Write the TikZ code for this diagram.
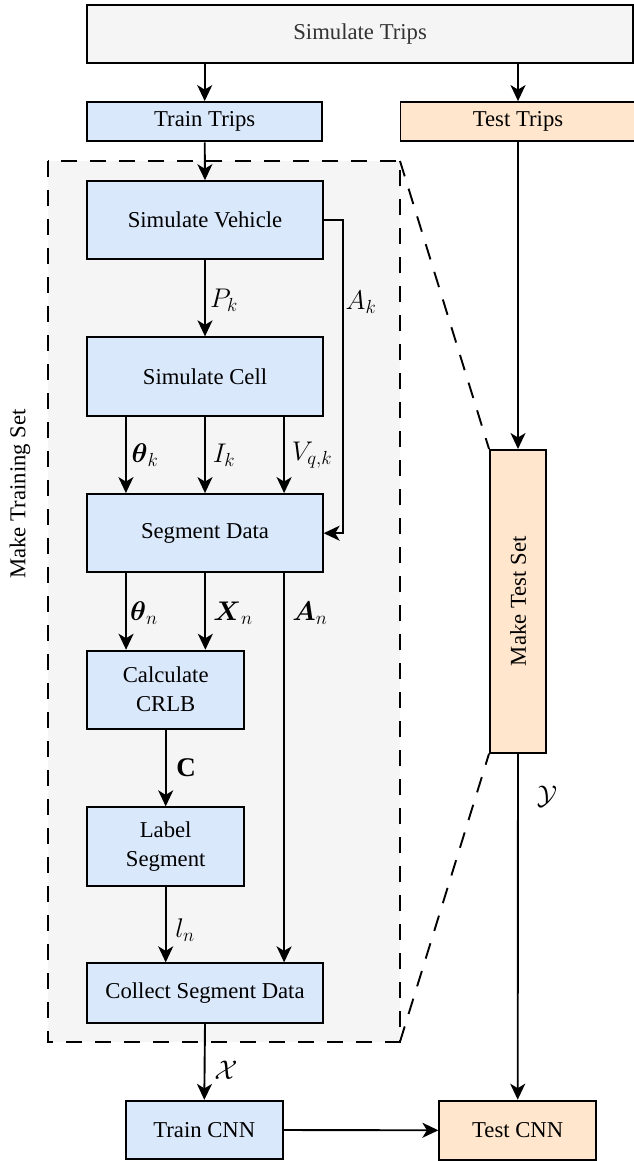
\RequirePackage{fix-cm}
\documentclass[tikz,border=0pt]{standalone}
\usepackage{amsmath}
\usepackage{fontspec}
\setmainfont{Liberation Serif}
\newfontfamily\tnr{Liberation Serif}
\usetikzlibrary{arrows.meta,calc}
\definecolor{blu}{HTML}{DAE8FC}
\definecolor{org}{HTML}{FFE6CC}
\definecolor{gry}{HTML}{F5F5F5}
\definecolor{txtg}{HTML}{333333}
\newcommand{\tf}{\tnr\fontsize{22.7}{29}\selectfont}
\newcommand{\mf}{\fontsize{27}{31}\selectfont}
\begin{document}
\begin{tikzpicture}[x=1pt,y=-1pt,
  box/.style={draw=black, line width=1.9pt, fill=blu, inner sep=0pt, align=center, font=\tf},
  arr/.style={line width=1.9pt, -{Stealth[length=16pt,width=15pt,inset=4.5pt]}},
  dsh/.style={line width=1.9pt, dash pattern=on 16pt off 13pt},
  lab/.style={font=\mf, inner sep=0pt}]
\useasboundingbox (0,0) rectangle (633,1161);
% training region
\coordinate (dtl) at (48,161);
\coordinate (dbr) at (400,1041.7);
\coordinate (dtr) at (400,161);
\fill[gry] (dtl) rectangle (dbr);
\draw[dsh] (dtl) rectangle (dbr);
\node[rotate=90, font=\tf, inner sep=0pt] (mtrain) at (20,494) {Make Training Set};
% nodes
\node[box, fill=gry, text=txtg, minimum width=546pt, minimum height=58pt] (simtrips) at (360.1,33.7) {Simulate Trips};
\node[box, minimum width=235pt, minimum height=39.3pt] (traintrips) at (204.7,121.7) {Train Trips};
\node[box, fill=org, minimum width=235pt, minimum height=39.3pt] (testtrips) at (518,121.7) {Test Trips};
\node[box, minimum width=235.4pt, minimum height=77.7pt] (simveh) at (205,220) {Simulate Vehicle};
\node[box, minimum width=235.4pt, minimum height=78.4pt] (simcell) at (205,376.5) {Simulate Cell};
\node[box, minimum width=235.4pt, minimum height=78.3pt] (segdata) at (205,533.2) {Segment Data};
\node[box, minimum width=156.7pt, minimum height=78pt] (crlb) at (165.7,689.7) {Calculate\\CRLB};
\node[box, minimum width=156.7pt, minimum height=78.4pt] (labelseg) at (165.7,846.5) {Label\\Segment};
\node[box, minimum width=235.4pt, minimum height=59.4pt] (collect) at (205,993) {Collect Segment Data};
\node[box, minimum width=156.7pt, minimum height=58.3pt] (traincnn) at (204.3,1130) {Train CNN};
\node[box, fill=org, minimum width=156.7pt, minimum height=59.3pt] (testcnn) at (517.7,1130.3) {Test CNN};
\node[box, fill=org, minimum width=56pt, minimum height=302.7pt] (maketest) at (518,601.3) {\rotatebox{90}{Make Test Set}};
% zoom lines
\draw[dsh] (dtr) -- (maketest.north west);
\draw[dsh] (dbr) -- (maketest.south west);
% connectors
\draw[arr] (simtrips.south -| traintrips.north) -- (traintrips.north);
\draw[arr] (simtrips.south -| testtrips.north) -- (testtrips.north);
\draw[arr] (traintrips.south) -- (simveh.north);
\draw[arr] (simveh.south) -- (simcell.north);
\draw[arr] (simveh.east) -- ++(19pt,0) coordinate (akc) |- (segdata.east);
\coordinate (c1) at ($(simcell.south west)!1/6!(simcell.south east)$);
\coordinate (c2) at ($(simcell.south west)!1/2!(simcell.south east)$);
\coordinate (c3) at ($(simcell.south west)!5/6!(simcell.south east)$);
\draw[arr] (c1) -- (c1 |- segdata.north);
\draw[arr] (c2) -- (c2 |- segdata.north);
\draw[arr] (c3) -- (c3 |- segdata.north);
\coordinate (d1) at ($(crlb.north west)!1/4!(crlb.north east)$);
\coordinate (d2) at ($(crlb.north west)!3/4!(crlb.north east)$);
\draw[arr] (d1 |- segdata.south) -- (d1);
\draw[arr] (d2 |- segdata.south) -- (d2);
\draw[arr] (c3 |- segdata.south) -- (c3 |- collect.north);
\draw[arr] (crlb.south) -- (labelseg.north);
\draw[arr] (labelseg.south) -- (labelseg.south |- collect.north);
\draw[arr] (collect.south) -- (traincnn.north);
\draw[arr] (traincnn.east) -- (testcnn.west);
\draw[arr] (testtrips.south) -- (maketest.north);
\draw[arr] (maketest.south) -- (testcnn.north);
% labels
\node[lab] (lpk) at (224,300) {$P_k$};
\node[lab] (lak) at (361,302) {$A_k$};
\node[lab] (lthk) at (145,455) {$\boldsymbol{\theta}_k$};
\node[lab] (lik) at (224,455) {$I_k$};
\node[lab] (lvqk) at (312,455) {$V_{q,k}$};
\node[lab] (lthn) at (144,613) {$\boldsymbol{\theta}_n$};
\node[lab] (lxn) at (233,613) {$\boldsymbol{X}_n$};
\node[lab] (lan) at (310,613) {$\boldsymbol{A}_n$};
\node[lab] (lc) at (186,768) {$\mathbf{C}$};
\node[lab] (lln) at (185,930) {$l_n$};
\node[lab] (lx) at (226,1070) {$\mathcal{X}$};
\node[lab] (ly) at (547,797) {$\mathcal{Y}$};
\end{tikzpicture}
\end{document}
